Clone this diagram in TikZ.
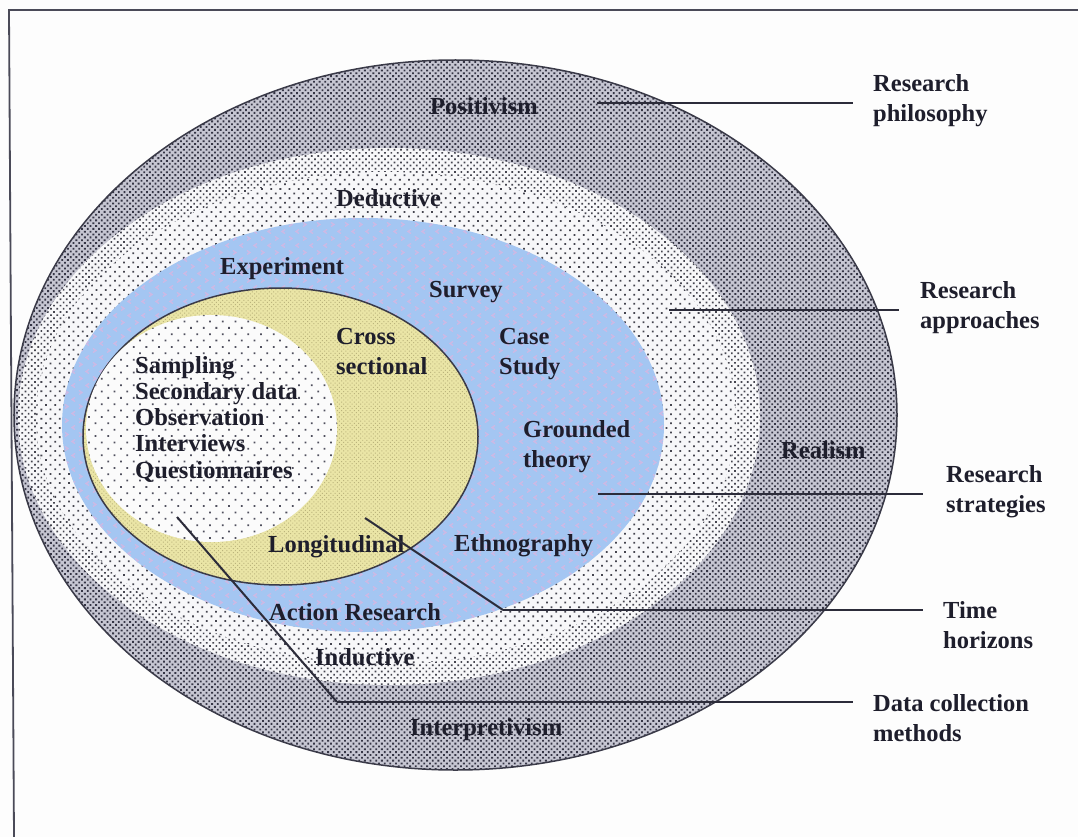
\documentclass[tikz,border=0pt]{standalone}
\usepackage{fontspec}
\setmainfont{Liberation Serif}
\usetikzlibrary{patterns.meta}

% palette
\definecolor{paper}{HTML}{FDFDFD}
\definecolor{ink}{HTML}{1E1E2C}
\definecolor{leadc}{HTML}{2C2C3A}
\definecolor{frameline}{HTML}{4A4A58}
\definecolor{rimline}{HTML}{3A3A48}
\definecolor{philbase}{HTML}{C6C6D2}
\definecolor{phildot}{HTML}{353545}
\definecolor{apprbase}{HTML}{F7F7F9}
\definecolor{apprdot}{HTML}{45454F}
\definecolor{stratbase}{HTML}{A4C6F2}
\definecolor{stratmark}{HTML}{CDB9E4}
\definecolor{timebase}{HTML}{EAE5A6}
\definecolor{timedot}{HTML}{BBB47C}
\definecolor{database}{HTML}{FBFBFB}
\definecolor{datadot}{HTML}{50505E}

% small < > marks used in the strategies ring
\pgfdeclarepatternformonly{chevronmarks}{\pgfpoint{-1bp}{-1bp}}{\pgfpoint{15bp}{15bp}}{\pgfpoint{14bp}{14bp}}{%
  \pgfsetlinewidth{1.3bp}%
  \pgfpathmoveto{\pgfpoint{5bp}{1.5bp}}\pgfpathlineto{\pgfpoint{2bp}{3.5bp}}\pgfpathlineto{\pgfpoint{5bp}{5.5bp}}%
  \pgfpathmoveto{\pgfpoint{9bp}{8.5bp}}\pgfpathlineto{\pgfpoint{12bp}{10.5bp}}\pgfpathlineto{\pgfpoint{9bp}{12.5bp}}%
  \pgfusepath{stroke}%
}

\begin{document}
\begin{tikzpicture}[x=1bp,y=-1bp,
  lbl/.style={font=\fontsize{24.5bp}{30bp}\selectfont\bfseries, text=ink,
    inner sep=0pt, anchor=base west, align=left},
  listlbl/.style={lbl, font=\fontsize{24.5bp}{26.25bp}\selectfont\bfseries},
  leader/.style={draw=leadc, line width=2.4bp},
  slant/.style={draw=leadc, line width=2bp},
  philring/.style={preaction={fill=philbase},
    pattern={Dots[distance=4bp, radius=1.3bp, angle=45]}, pattern color=phildot},
  apprrim/.style={preaction={fill=apprbase},
    pattern={Dots[distance=4.5bp, radius=1.2bp, angle=45]}, pattern color=apprdot},
  apprring/.style={preaction={fill=apprbase},
    pattern={Dots[distance=6.5bp, radius=1.25bp, angle=45]}, pattern color=apprdot},
  stratring/.style={preaction={fill=stratbase},
    pattern=chevronmarks, pattern color=stratmark},
  timering/.style={preaction={fill=timebase},
    pattern={Dots[distance=3bp, radius=0.7bp, angle=45]}, pattern color=timedot},
  dataring/.style={preaction={fill=database},
    pattern={Dots[distance=9bp, radius=1.25bp, angle=45]}, pattern color=datadot},
]

% page and frame
\fill[paper] (0,0) rectangle (1078,837);
\useasboundingbox (0,0) rectangle (1078,837);
\coordinate (frameTR) at (1078,10);
\coordinate (frameTL) at (9,10);
\coordinate (frameBL) at (14,837);
\draw[frameline, line width=1.8bp] (frameTR) -- (frameTL) -- (frameBL);

% the layers, outside in
\path[philring] (455.5,415) ellipse [x radius=441.5bp, y radius=355bp];
\draw[rimline, line width=1.5bp] (455.5,415) ellipse [x radius=441.5bp, y radius=355bp];
\path[apprrim] (389,416.5) ellipse [x radius=371bp, y radius=268.5bp];
\path[apprring] (386,418) ellipse [x radius=350bp, y radius=246bp];
\path[stratring] (363,425) ellipse [x radius=301bp, y radius=207bp];
\path[timering] (280.5,436.5) ellipse [x radius=197.5bp, y radius=148.5bp];
\draw[rimline, line width=1.5bp] (280.5,436.5) ellipse [x radius=197.5bp, y radius=148.5bp];
\path[dataring] (211.5,428.5) ellipse [x radius=125.5bp, y radius=113.5bp];

% labels inside the layers (multi-line nodes sit on their last baseline)
\node[lbl] (positivism) at (430,114) {Positivism};
\node[lbl] (deductive) at (336,206) {Deductive};
\node[lbl] (experiment) at (220,274) {Experiment};
\node[lbl] (survey) at (429,297) {Survey};
\node[lbl] (cross) at (336,374) {Cross\\sectional};
\node[lbl] (casestudy) at (499,374) {Case\\Study};
\node[lbl] (grounded) at (523,467) {Grounded\\theory};
\node[lbl] (realism) at (781,458) {Realism};
\node[lbl] (longitudinal) at (268,552) {Longitudinal};
\node[lbl] (ethnography) at (454,551) {Ethnography};
\node[lbl] (action) at (269,620) {Action Research};
\node[lbl] (inductive) at (315,665) {Inductive};
\node[lbl] (interpretivism) at (410,735) {Interpretivism};
\node[listlbl] (methods) at (135,478) {Sampling\\Secondary data\\Observation\\Interviews\\Questionnaires};

% layer names
\node[lbl] (philosophy) at (873,121) {Research\\philosophy};
\node[lbl] (approaches) at (920,328) {Research\\approaches};
\node[lbl] (strategies) at (946,512) {Research\\strategies};
\node[lbl] (horizons) at (943,648) {Time\\horizons};
\node[lbl] (collection) at (873,741) {Data collection\\methods};

% leader lines
\coordinate (philA) at (597,103);  \coordinate (philB) at (853,103);
\coordinate (apprA) at (669,310);  \coordinate (apprB) at (899,310);
\coordinate (stratA) at (598,494); \coordinate (stratB) at (923,494);
\coordinate (timeA) at (365,518);  \coordinate (timeK) at (503,610); \coordinate (timeB) at (923,610);
\coordinate (dataA) at (177,517);  \coordinate (dataK) at (337,702); \coordinate (dataB) at (853,702);

\draw[leader] (philA) -- (philB);
\draw[leader] (apprA) -- (apprB);
\draw[leader] (stratA) -- (stratB);
\draw[slant] (timeA) -- (timeK);
\draw[leader] (timeK) -- (timeB);
\draw[slant] (dataA) -- (dataK);
\draw[leader] (dataK) -- (dataB);
\end{tikzpicture}
\end{document}
